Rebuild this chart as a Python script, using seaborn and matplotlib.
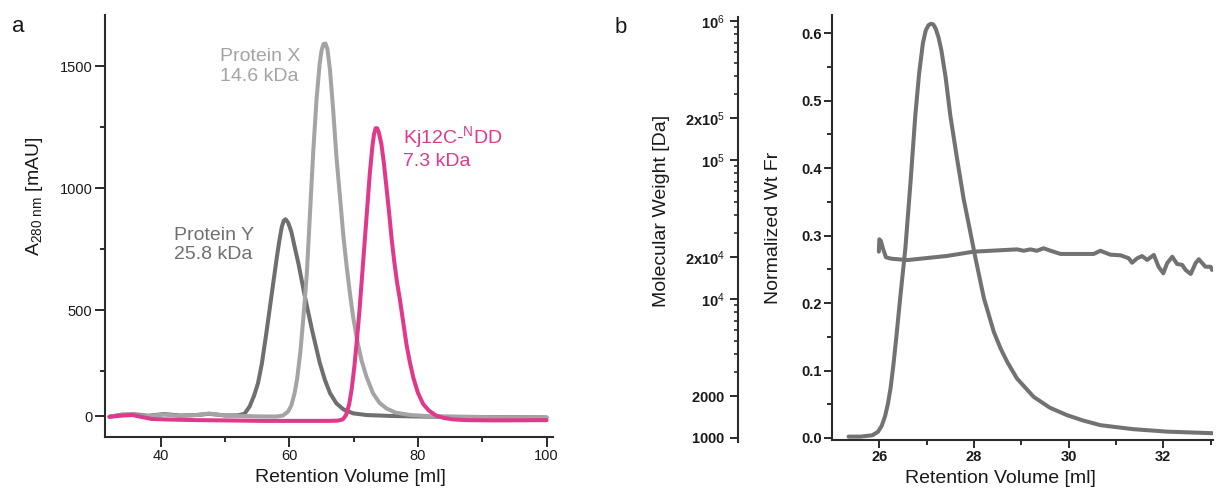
import numpy as np
import pandas as pd
import seaborn as sns
import matplotlib.pyplot as plt
from matplotlib.ticker import FixedLocator, NullFormatter

# ---------------- data: panel a (SEC, A280) ----------------
protein_y_ml = [32.0, 34.0, 36.0, 38.0, 40.5, 43.0, 45.5, 47.5, 50.0, 52.0, 53.0, 53.8, 54.5, 55.1,
                55.7, 56.4, 57.0, 57.5, 58.0, 58.4, 58.8, 59.1, 59.4, 59.8, 60.3, 60.8, 61.4, 62.4,
                63.5, 64.7, 65.5, 66.3, 67.3, 68.4, 69.9, 72.0, 76.0, 82.0, 90.0, 100.0]
protein_y_mau = [63, 72, 73, 67, 74, 68, 70, 75, 68, 69, 75, 105, 150, 200,
                 280, 405, 520, 615, 710, 780, 840, 866, 872, 858, 820, 760, 690, 555,
                 420, 285, 215, 160, 118, 93, 77, 70, 66, 63, 62, 60]

protein_x_ml = [32.0, 34.0, 36.0, 38.0, 40.5, 43.0, 45.5, 47.5, 50.0, 53.0, 56.0, 58.0, 59.0, 59.8,
                60.3, 60.8, 61.2, 61.7, 62.2, 62.7, 63.2, 63.7, 64.2, 64.7, 65.0, 65.3, 65.6, 65.9,
                66.3, 66.8, 67.3, 67.9, 68.4, 68.9, 69.4, 69.9, 70.5, 71.2, 72.0, 73.0, 74.0, 75.1,
                76.5, 78.8, 82.0, 86.0, 92.0, 100.0]
protein_x_mau = [63, 70, 70, 66, 72, 66, 70, 76, 68, 66, 64, 64, 68, 85,
                 110, 160, 220, 330, 480, 650, 900, 1150, 1360, 1510, 1565, 1590, 1592, 1570,
                 1485, 1320, 1130, 951, 800, 678, 570, 473, 380, 295, 225, 159, 120, 97,
                 80, 70, 65, 63, 61, 60]

kj12c_ml = [32.0, 34.0, 35.6, 37.0, 38.5, 42.0, 46.0, 50.0, 56.0, 62.0, 66.0, 67.5, 68.3, 68.8,
            69.3, 69.7, 70.1, 70.5, 70.9, 71.3, 71.7, 72.1, 72.5, 72.9, 73.15, 73.4, 73.65, 73.9,
            74.3, 74.7, 75.1, 75.5, 75.9, 76.3, 76.7, 77.2, 77.7, 78.2, 78.7, 79.3, 80.0, 80.8,
            81.7, 82.8, 84.0, 85.5, 87.6, 92.0, 100.0]
kj12c_mau = [63, 68, 70, 62, 54, 51, 49, 48, 46, 46, 46, 47, 52, 70,
             115, 180, 270, 380, 500, 640, 780, 920, 1060, 1170, 1220, 1245, 1245, 1228,
             1180, 1100, 1000, 900, 790, 700, 620, 540, 450, 360, 290, 220, 160, 115,
             88, 68, 58, 52, 49, 48, 49]

a_ytick_pos = [65, 500, 1000, 1500]
a_ytick_lab = ['0', '500', '1000', '1500']
a_xticks = [40, 60, 80, 100]

# ---------------- data: panel b (SEC-MALS) ----------------
wtfr_ml = [25.35, 25.6, 25.85, 25.97, 26.05, 26.12, 26.18, 26.24, 26.30, 26.36, 26.44, 26.55,
           26.66, 26.76, 26.84, 26.92, 26.98, 27.04, 27.09, 27.14, 27.19, 27.25, 27.31, 27.40,
           27.50, 27.64, 27.78, 27.92, 28.03, 28.21, 28.42, 28.56, 28.70, 28.91, 29.26, 29.60,
           29.96, 30.30, 30.67, 31.37, 32.08, 33.07]
wtfr_val = [0.002, 0.002, 0.004, 0.009, 0.018, 0.032, 0.050, 0.075, 0.110, 0.150, 0.207, 0.281,
            0.380, 0.478, 0.540, 0.585, 0.604, 0.612, 0.614, 0.613, 0.607, 0.594, 0.575, 0.535,
            0.478, 0.415, 0.355, 0.306, 0.267, 0.207, 0.157, 0.133, 0.113, 0.088, 0.061, 0.045,
            0.034, 0.026, 0.019, 0.013, 0.0094, 0.007]

mw_ml = [25.99, 26.00, 26.03, 26.08, 26.14, 26.25, 26.59, 27.43, 27.99, 28.91, 29.05, 29.19,
         29.33, 29.47, 29.62, 29.83, 30.53, 30.67, 30.88, 31.10, 31.27, 31.34, 31.45, 31.55,
         31.66, 31.80, 31.90, 32.00, 32.08, 32.19, 32.29, 32.40, 32.47, 32.58, 32.68, 32.75,
         32.89, 33.00, 33.03]
mw_da = [21900, 26900, 26300, 22900, 19950, 19500, 19050, 20400, 21900, 22750, 22230, 22750,
         22230, 23170, 22230, 21090, 21090, 22230, 20840, 20610, 19630, 18240, 19630, 20370,
         19100, 20750, 17060, 15310, 18070, 20140, 17870, 17580, 16180, 15140, 18070, 19320,
         17060, 17060, 16180]

mw_ticks = [1000, 2000, 1e4, 2e4, 1e5, 2e5, 1e6]
mw_labels = [r'$\mathbf{1000}$', r'$\mathbf{2000}$', r'$\mathbf{10}^{4}$', r'$\mathbf{2x10}^{4}$',
             r'$\mathbf{10}^{5}$', r'$\mathbf{2x10}^{5}$', r'$\mathbf{10}^{6}$']
b_xticks = [26, 28, 30, 32]
b_yticks = [0.0, 0.1, 0.2, 0.3, 0.4, 0.5, 0.6]

# ---------------- style ----------------
sns.set_theme(style='ticks')
plt.rcParams['font.family'] = ['Liberation Sans', 'DejaVu Sans']
plt.rcParams['mathtext.fontset'] = 'custom'
plt.rcParams['mathtext.rm'] = 'Liberation Sans'
plt.rcParams['mathtext.it'] = 'Liberation Sans:italic'
plt.rcParams['mathtext.bf'] = 'Liberation Sans:bold'
plt.rcParams['mathtext.default'] = 'regular'

SPINE = '#2b2b2b'
DARK = '#6f6f6f'
LIGHT = '#a4a4a4'
PINK = '#e0398c'
BGRAY = '#727272'

W, H = 1219, 493
fig = plt.figure(figsize=(W / 100, H / 100), dpi=100)

# ---------------- panel a ----------------
axA = fig.add_axes([105 / W, 1 - 437 / H, 448 / W, 422 / H])
dfa = pd.concat([
    pd.DataFrame({'ml': protein_y_ml, 'mAU': protein_y_mau, 'prot': 'Protein Y'}),
    pd.DataFrame({'ml': protein_x_ml, 'mAU': protein_x_mau, 'prot': 'Protein X'}),
    pd.DataFrame({'ml': kj12c_ml, 'mAU': kj12c_mau, 'prot': 'Kj12C'}),
])
sns.lineplot(data=dfa, x='ml', y='mAU', hue='prot', sort=False, estimator=None,
             palette={'Protein Y': DARK, 'Protein X': LIGHT, 'Kj12C': PINK},
             hue_order=['Protein Y', 'Protein X', 'Kj12C'],
             linewidth=2.9, legend=False, ax=axA)
for ln in axA.lines:
    ln.set_solid_joinstyle('round')
    ln.set_solid_capstyle('round')
axA.set_xlim(31.3, 101)
axA.set_ylim(-20, 1709)
axA.set_xticks(a_xticks)
axA.set_xticks([50, 70, 90], minor=True)
axA.set_yticks(a_ytick_pos)
axA.set_yticklabels(a_ytick_lab)
axA.set_yticks([250, 750, 1250], minor=True)
for s in ['top', 'right']:
    axA.spines[s].set_visible(False)
for s in ['left', 'bottom']:
    axA.spines[s].set_color(SPINE)
    axA.spines[s].set_linewidth(1.5)
axA.tick_params(which='major', length=7, width=1.4, color=SPINE, labelsize=10.5,
                labelcolor='#1a1a1a', pad=2)
axA.tick_params(which='minor', length=3.5, width=1.4, color=SPINE)
axA.set_xlabel('Retention Volume [ml]', fontsize=14, color='#1a1a1a')
axA.set_ylabel(r'A$_{280\ nm}$ [mAU]', fontsize=14, color='#1a1a1a')
axA.xaxis.set_label_coords(0.547, -0.075)
axA.yaxis.set_label_coords(-0.135, 0.57)

axA.text(49.2, 1572, 'Protein X\n14.6 kDa', color=LIGHT, fontsize=14, va='top', ha='left',
         linespacing=1.2)
axA.text(42.0, 842, 'Protein Y\n25.8 kDa', color=DARK, fontsize=14, va='top', ha='left',
         linespacing=1.2)
axA.text(77.6, 1262, 'Kj12C-$^{N}$DD\n7.3 kDa', color=PINK, fontsize=14, va='top', ha='left',
         linespacing=1.2)

# ---------------- panel b ----------------
axB = fig.add_axes([832 / W, 1 - 440 / H, 381 / W, 425 / H])
sns.lineplot(x=wtfr_ml, y=wtfr_val, color=BGRAY, linewidth=2.9, sort=False,
             estimator=None, ax=axB)
axB.set_xlim(25.0, 33.05)
axB.set_ylim(-0.003, 0.627)
axB.set_xticks(b_xticks)
axB.set_xticks([27, 29, 31, 33], minor=True)
axB.set_yticks(b_yticks)
axB.set_yticklabels([f'{v:.1f}' for v in b_yticks])
axB.set_yticks([0.05, 0.15, 0.25, 0.35, 0.45, 0.55], minor=True)
for s in ['top', 'right']:
    axB.spines[s].set_visible(False)
for s in ['left', 'bottom']:
    axB.spines[s].set_color(SPINE)
    axB.spines[s].set_linewidth(1.5)
axB.tick_params(which='major', length=5.5, width=1.4, color=SPINE, labelsize=10.5,
                labelcolor='#1a1a1a', pad=2)
axB.tick_params(which='minor', length=3.5, width=1.4, color=SPINE)
for lab in axB.get_xticklabels() + axB.get_yticklabels():
    lab.set_fontweight('bold')
axB.set_xlabel('Retention Volume [ml]', fontsize=14, color='#1a1a1a')
axB.set_ylabel('Normalized Wt Fr', fontsize=14, color='#1a1a1a')
axB.xaxis.set_label_coords(0.441, -0.07)
axB.yaxis.set_label_coords(-0.13, 0.5)

axM = axB.twinx()
axM.patch.set_visible(False)
sns.lineplot(x=mw_ml, y=mw_da, color=BGRAY, linewidth=2.9, sort=False,
             estimator=None, ax=axM)
for ax in (axB, axM):
    for ln in ax.lines:
        ln.set_solid_joinstyle('round')
        ln.set_solid_capstyle('round')
axM.set_yscale('log')
axM.set_ylim(1000 / 10 ** (2 / 139), 10 ** 6.043)
axM.yaxis.set_ticks_position('left')
axM.yaxis.set_label_position('left')
axM.spines['left'].set_position(('outward', 94 * 0.72))
for s in ['top', 'right', 'bottom']:
    axM.spines[s].set_visible(False)
axM.spines['left'].set_color(SPINE)
axM.spines['left'].set_linewidth(1.5)
axM.spines['left'].set_bounds(930, 1.06e6)
axM.yaxis.set_major_locator(FixedLocator(mw_ticks))
axM.set_yticklabels(mw_labels)
minor_mw = [m * 10 ** e for e in (3, 4, 5) for m in range(2, 10)]
minor_mw = [v for v in minor_mw if v not in mw_ticks]
axM.yaxis.set_minor_locator(FixedLocator(minor_mw))
axM.yaxis.set_minor_formatter(NullFormatter())
axM.tick_params(axis='y', which='major', length=5.5, width=1.4, color=SPINE,
                labelsize=10.5, labelcolor='#1a1a1a', pad=4)
axM.tick_params(axis='y', which='minor', length=3, width=1.2, color=SPINE)
axM.set_ylabel('Molecular Weight [Da]', fontsize=14, color='#1a1a1a')
axM.yaxis.set_label_coords(-0.425, 0.54)

# panel letters
fig.text(12 / W, 1 - 32 / H, 'a', fontsize=16, va='baseline', ha='left', color='#1a1a1a')
fig.text(615 / W, 1 - 33 / H, 'b', fontsize=16, va='baseline', ha='left', color='#1a1a1a')

fig.savefig('out.png', dpi=100)
